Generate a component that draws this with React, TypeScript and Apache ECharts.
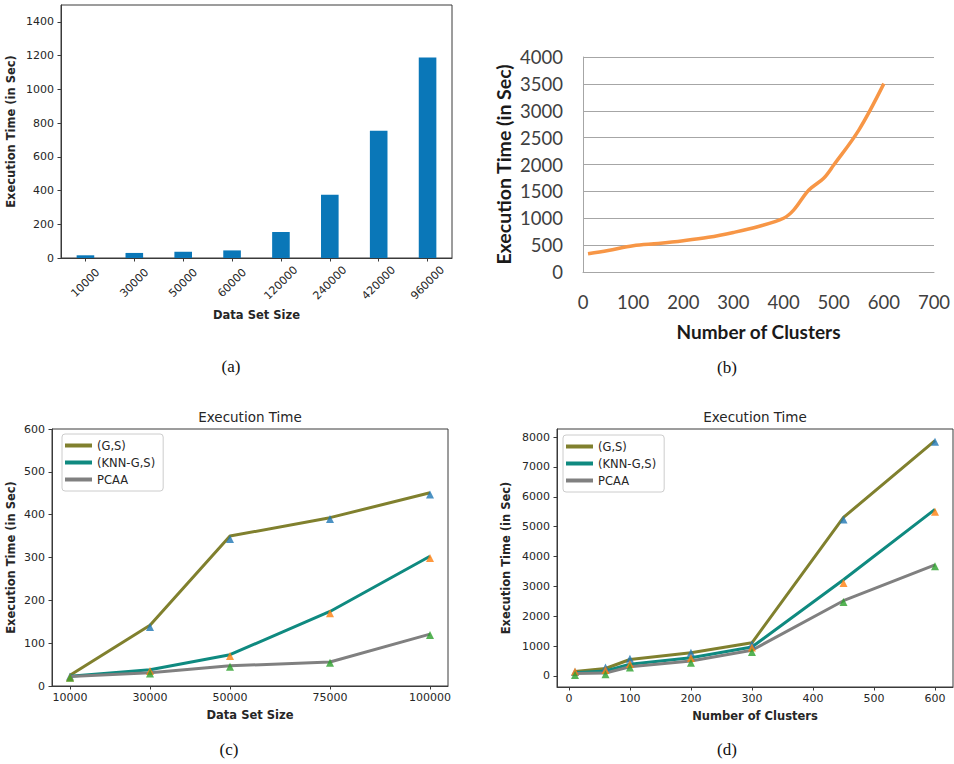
import React, { useEffect, useRef } from "react";
import * as echarts from "echarts";

// ---------- Panel (a) ----------
const aCategories = ["10000", "30000", "50000", "60000", "120000", "240000", "420000", "960000"];
const aValues = [16, 30, 37, 45, 154, 375, 754, 1189];
const aYTicks = [0, 200, 400, 600, 800, 1000, 1200, 1400];

// ---------- Panel (b) ----------
const bClusters = [10, 50, 100, 150, 200, 250, 300, 350, 400, 420, 450, 480, 500, 550, 600];
const bTimes = [340, 400, 488, 530, 581, 645, 736, 847, 1000, 1150, 1520, 1745, 1990, 2640, 3505];

// ---------- Panel (c) ----------
const cSizes = [10000, 30000, 50000, 75000, 100000];
const cGS = [25, 142, 350, 393, 451];
const cKNN = [23, 38, 73, 174, 303];
const cPCAA = [22, 31, 47, 56, 121];
const cGSMarks = [22, 138, 343, 390, 447];
const cKNNMarks = [20, 35, 70, 170, 299];
const cPCAAMarks = [19, 29, 45, 54, 119];
const cXTicks = [10000, 30000, 50000, 75000, 100000];
const cYTicks = [0, 100, 200, 300, 400, 500, 600];

// ---------- Panel (d) ----------
const dClusters = [10, 60, 100, 200, 300, 450, 600];
const dGS = [150, 250, 550, 780, 1110, 5310, 7880];
const dKNN = [110, 170, 390, 610, 970, 3220, 5580];
const dPCAA = [80, 95, 310, 500, 860, 2520, 3720];
const dGSMarks = [130, 280, 580, 780, 1050, 5240, 7840];
const dKNNMarks = [150, 200, 400, 600, 950, 3110, 5500];
const dPCAAMarks = [30, 60, 280, 445, 800, 2480, 3670];
const dXTicks = [0, 100, 200, 300, 400, 500, 600];
const dYTicks = [0, 1000, 2000, 3000, 4000, 5000, 6000, 7000, 8000];

const legendNames = ["(G,S)", "(KNN-G,S)", "PCAA"];

const MPL = "DejaVu Sans";
const XL = "Lato";
const SPINE = "#3a3a3a";
const TXT = "#262626";
const OLIVE = "#80802e";
const TEAL = "#0f8a80";
const GRAY = "#808080";
const C_BLUE = "#1f77b4";
const C_ORANGE = "#ff7f0e";
const C_GREEN = "#2ca02c";

const plain = (v: number) => String(v);
const pairs = (xs: number[], ys: number[]) => xs.map((x, i) => [x, ys[i]]);

function mplAxisCommon() {
  return {
    axisLine: { show: true, onZero: false, lineStyle: { color: SPINE, width: 1 } },
    axisTick: { show: true, inside: false, length: 3.5, lineStyle: { color: SPINE } },
    splitLine: { show: false },
  };
}

function mplLegend(left: number, top: number) {
  return {
    left,
    top,
    orient: "vertical",
    data: legendNames,
    icon: "rect",
    itemWidth: 27,
    itemHeight: 4,
    itemGap: 4,
    padding: [5, 8, 5, 3],
    borderColor: "#cccccc",
    borderWidth: 1,
    borderRadius: 3,
    backgroundColor: "rgba(255,255,255,0.8)",
    selectedMode: false,
    textStyle: { fontFamily: MPL, fontSize: 11.5, color: TXT, lineHeight: 13 },
  };
}

function lineSeries(name: string, xi: number, xs: number[], ys: number[], color: string) {
  return {
    type: "line",
    name,
    xAxisIndex: xi,
    yAxisIndex: xi,
    data: pairs(xs, ys),
    showSymbol: false,
    color,
    lineStyle: { color, width: 3 },
    z: 2,
  };
}

function markSeries(name: string, xi: number, xs: number[], ys: number[], color: string) {
  return {
    type: "scatter",
    name,
    xAxisIndex: xi,
    yAxisIndex: xi,
    data: pairs(xs, ys),
    symbol: "triangle",
    symbolSize: 8,
    itemStyle: { color },
    z: 3,
  };
}

export default function App() {
  const ref = useRef<HTMLDivElement>(null);

  useEffect(() => {
    document.body.style.margin = "0";
    if (!ref.current) return;
    const chart = echarts.init(ref.current, null, { renderer: "svg" });

    const label = (text: string, x: number, y: number) => ({
      type: "text",
      x,
      y,
      style: {
        text,
        align: "center",
        verticalAlign: "middle",
        fontFamily: "Liberation Serif",
        fontSize: 17,
        fill: "#111",
      },
    });
    const title = (text: string, x: number, y: number) => ({
      type: "text",
      x,
      y,
      style: {
        text,
        align: "center",
        verticalAlign: "middle",
        fontFamily: MPL,
        fontSize: 13.5,
        fill: TXT,
      },
    });

    const mplName = { fontFamily: MPL, fontSize: 11.5, fontWeight: "bold", color: TXT };
    const mplLabel = { fontFamily: MPL, fontSize: 11, color: TXT, formatter: plain };

    const option: any = {
      animation: false,
      backgroundColor: "#ffffff",
      grid: [
        { left: 61, top: 5, width: 391, height: 253, show: true, borderColor: SPINE, borderWidth: 1, backgroundColor: "transparent" },
        { left: 583, top: 57, width: 351, height: 215 },
        { left: 52, top: 429, width: 396, height: 257, show: true, borderColor: SPINE, borderWidth: 1, backgroundColor: "transparent" },
        { left: 557, top: 429, width: 396, height: 258, show: true, borderColor: SPINE, borderWidth: 1, backgroundColor: "transparent" },
      ],
      xAxis: [
        {
          gridIndex: 0,
          type: "category",
          data: aCategories,
          boundaryGap: true,
          ...mplAxisCommon(),
          axisTick: { show: true, alignWithLabel: true, length: 3.5, lineStyle: { color: SPINE } },
          axisLabel: {
            rotate: 45,
            align: "center",
            verticalAlign: "middle",
            margin: 25,
            fontFamily: MPL,
            fontSize: 11,
            color: TXT,
            interval: 0,
          },
          name: "Data Set Size",
          nameLocation: "middle",
          nameGap: 51,
          nameTextStyle: mplName,
        },
        {
          gridIndex: 1,
          type: "value",
          min: 0,
          max: 700,
          interval: 100,
          axisLine: { show: true, onZero: false, lineStyle: { color: "#a6a6a6", width: 1 } },
          axisTick: { show: false },
          splitLine: { show: false },
          axisLabel: { fontFamily: XL, fontSize: 18.5, color: "#404040", margin: 20, formatter: plain },
          name: "Number of Clusters",
          nameLocation: "middle",
          nameGap: 50,
          nameTextStyle: { fontFamily: XL, fontSize: 19, fontWeight: "bold", color: "#1a1a1a" },
        },
        {
          gridIndex: 2,
          type: "value",
          min: 5500,
          max: 104500,
          ...mplAxisCommon(),
          axisTick: { show: true, length: 3.5, lineStyle: { color: SPINE }, customValues: cXTicks },
          axisLabel: { ...mplLabel, customValues: cXTicks, margin: 6 },
          name: "Data Set Size",
          nameLocation: "middle",
          nameGap: 23,
          nameTextStyle: mplName,
        },
        {
          gridIndex: 3,
          type: "value",
          min: -19.5,
          max: 629.5,
          ...mplAxisCommon(),
          axisTick: { show: true, length: 3.5, lineStyle: { color: SPINE }, customValues: dXTicks },
          axisLabel: { ...mplLabel, customValues: dXTicks, margin: 6 },
          name: "Number of Clusters",
          nameLocation: "middle",
          nameGap: 23,
          nameTextStyle: mplName,
        },
      ],
      yAxis: [
        {
          gridIndex: 0,
          type: "value",
          min: 0,
          max: 1500,
          ...mplAxisCommon(),
          axisTick: { show: true, length: 3.5, lineStyle: { color: SPINE }, customValues: aYTicks },
          axisLabel: { ...mplLabel, customValues: aYTicks, margin: 7 },
          name: "Execution Time (in Sec)",
          nameLocation: "middle",
          nameGap: 44,
          nameTextStyle: mplName,
        },
        {
          gridIndex: 1,
          type: "value",
          min: 0,
          max: 4000,
          interval: 500,
          axisLine: { show: true, lineStyle: { color: "#a6a6a6", width: 1 } },
          axisTick: { show: false },
          splitLine: { show: true, lineStyle: { color: "#a6a6a6", width: 1 } },
          axisLabel: { fontFamily: XL, fontSize: 18.5, color: "#404040", margin: 20, formatter: plain },
          name: "Execution Time (in Sec)",
          nameLocation: "middle",
          nameGap: 70,
          nameTextStyle: { fontFamily: XL, fontSize: 19.5, fontWeight: "bold", color: "#1a1a1a" },
        },
        {
          gridIndex: 2,
          type: "value",
          min: 0,
          max: 600,
          ...mplAxisCommon(),
          axisTick: { show: true, length: 3.5, lineStyle: { color: SPINE }, customValues: cYTicks },
          axisLabel: { ...mplLabel, customValues: cYTicks, margin: 7 },
          name: "Execution Time (in Sec)",
          nameLocation: "middle",
          nameGap: 35,
          nameTextStyle: mplName,
        },
        {
          gridIndex: 3,
          type: "value",
          min: -370,
          max: 8270,
          ...mplAxisCommon(),
          axisTick: { show: true, length: 3.5, lineStyle: { color: SPINE }, customValues: dYTicks },
          axisLabel: { ...mplLabel, customValues: dYTicks, margin: 7 },
          name: "Execution Time (in Sec)",
          nameLocation: "middle",
          nameGap: 45,
          nameTextStyle: mplName,
        },
      ],
      legend: [mplLegend(62, 434), mplLegend(563, 435)],
      series: [
        {
          type: "bar",
          name: "bars",
          xAxisIndex: 0,
          yAxisIndex: 0,
          data: aValues,
          barWidth: "36%",
          itemStyle: { color: "#0a77b8" },
        },
        {
          type: "line",
          name: "clusters",
          xAxisIndex: 1,
          yAxisIndex: 1,
          data: pairs(bClusters, bTimes),
          smooth: 0.35,
          showSymbol: false,
          lineStyle: { color: "#f79646", width: 3.5 },
          itemStyle: { color: "#f79646" },
        },
        lineSeries("(G,S)", 2, cSizes, cGS, OLIVE),
        lineSeries("(KNN-G,S)", 2, cSizes, cKNN, TEAL),
        lineSeries("PCAA", 2, cSizes, cPCAA, GRAY),
        markSeries("c-gs-mark", 2, cSizes, cGSMarks, C_BLUE),
        markSeries("c-knn-mark", 2, cSizes, cKNNMarks, C_ORANGE),
        markSeries("c-pcaa-mark", 2, cSizes, cPCAAMarks, C_GREEN),
        lineSeries("(G,S)", 3, dClusters, dGS, OLIVE),
        lineSeries("(KNN-G,S)", 3, dClusters, dKNN, TEAL),
        lineSeries("PCAA", 3, dClusters, dPCAA, GRAY),
        markSeries("d-gs-mark", 3, dClusters, dGSMarks, C_BLUE),
        markSeries("d-knn-mark", 3, dClusters, dKNNMarks, C_ORANGE),
        markSeries("d-pcaa-mark", 3, dClusters, dPCAAMarks, C_GREEN),
      ],
      graphic: [
        title("Execution Time", 250, 417),
        title("Execution Time", 755, 417),
        label("(a)", 231, 366),
        label("(b)", 727, 367),
        label("(c)", 229, 749),
        label("(d)", 727, 749),
      ],
    };

    chart.setOption(option);
    return () => chart.dispose();
  }, []);

  return <div ref={ref} style={{ width: 954, height: 764 }} />;
}
